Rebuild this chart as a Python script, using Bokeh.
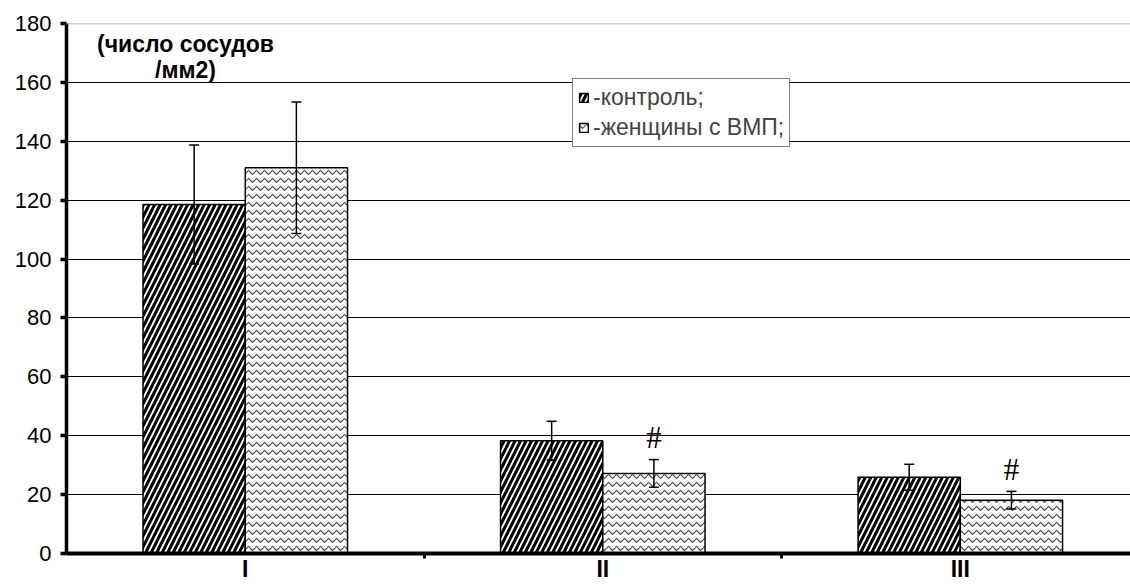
from bokeh.plotting import figure
from bokeh.models import (ColumnDataSource, FixedTicker, Whisker, TeeHead, Legend,
                          LegendItem, Span, Range1d, Label)
from bokeh.core.properties import value
from bokeh.embed import file_html
from bokeh.resources import INLINE

# ---- data ----
groups = ["I", "II", "III"]
control = [118.5, 38.3, 25.9]
control_err = [20.2, 6.6, 4.4]
women = [131.0, 27.2, 18.1]
women_err = [22.3, 4.7, 3.0]
sig_marks = ["", "#", "#"]
y_ticks = [0, 20, 40, 60, 80, 100, 120, 140, 160, 180]
series_names = ["-контроль;", "-женщины с ВМП;"]
y_title = "(число сосудов\n/мм2)"

FONT = "Liberation Sans"
centers = [i + 0.5 for i in range(len(groups))]
bar_w = 0.286
ctrl_x = [c - bar_w / 2 for c in centers]
wom_x = [c + bar_w / 2 for c in centers]

src_c = ColumnDataSource(dict(x=ctrl_x, top=control,
                              upper=[v + e for v, e in zip(control, control_err)],
                              lower=[v - e for v, e in zip(control, control_err)]))
src_w = ColumnDataSource(dict(x=wom_x, top=women,
                              upper=[v + e for v, e in zip(women, women_err)],
                              lower=[v - e for v, e in zip(women, women_err)],
                              sig=sig_marks,
                              sig_y=[v + e + 7.5 for v, e in zip(women, women_err)]))

p = figure(width=1130, height=584, x_range=Range1d(0, 2.976), y_range=Range1d(0, 180),
           output_backend="svg", toolbar_location=None,
           min_border_left=66, min_border_right=0, min_border_top=23, min_border_bottom=31)
p.outline_line_color = None
p.background_fill_color = "white"

# grid
p.xgrid.visible = False
p.ygrid.ticker = FixedTicker(ticks=y_ticks[1:-1])
p.ygrid.grid_line_color = "black"
p.ygrid.grid_line_width = 1
p.add_layout(Span(location=y_ticks[-1], dimension="width", line_color="#9a9a9a", line_width=1.5))

# bars
r1 = p.vbar(x="x", top="top", width=bar_w, source=src_c, fill_color="white",
            line_color="black", line_width=1.5,
            hatch_pattern="right_diagonal_line", hatch_color="black",
            hatch_weight=3, hatch_scale=11)
r2 = p.vbar(x="x", top="top", width=bar_w, source=src_w, fill_color="white",
            line_color="black", line_width=1.5,
            hatch_pattern="horizontal_wave", hatch_color="#4a4a4a",
            hatch_weight=1.2, hatch_scale=8)

for s in (src_c, src_w):
    w = Whisker(base="x", upper="upper", lower="lower", source=s, line_width=1.5,
                line_color="black", level="overlay",
                upper_head=TeeHead(size=10, line_width=1.5, line_color="black"),
                lower_head=TeeHead(size=10, line_width=1.5, line_color="black"))
    p.add_layout(w)

p.text(x="x", y="sig_y", text="sig", source=src_w, text_font=value("Liberation Serif"),
       text_font_size="31px", text_align="center", text_baseline="middle",
       text_color="black")

# y title
p.add_layout(Label(x=119, y=497, x_units="screen", y_units="screen", text=y_title,
                   text_font=FONT, text_font_size="23px", text_font_style="bold",
                   text_line_height=1.0,
                   text_align="center", text_baseline="middle", text_color="black"))

# axes
ya = p.yaxis[0]
ya.ticker = FixedTicker(ticks=y_ticks)
ya.axis_line_width = 3.5
ya.axis_line_color = "black"
ya.major_tick_line_width = 3.5
ya.major_tick_out = 6
ya.major_tick_in = 0
ya.minor_tick_line_color = None
ya.major_label_text_font = FONT
ya.major_label_text_font_size = "22px"
ya.major_label_text_color = "black"
ya.major_label_standoff = 9

xa = p.xaxis[0]
xa.ticker = FixedTicker(ticks=centers, minor_ticks=[1, 2])
xa.major_label_overrides = {c: g for c, g in zip(centers, groups)}
xa.axis_line_width = 4
xa.axis_line_color = "black"
xa.major_tick_line_color = None
xa.major_tick_out = 0
xa.major_tick_in = 0
xa.minor_tick_out = 5
xa.minor_tick_in = 0
xa.minor_tick_line_width = 3
xa.minor_tick_line_color = "black"
xa.major_label_text_font = FONT
xa.major_label_text_font_size = "23px"
xa.major_label_text_font_style = "bold"
xa.major_label_text_color = "black"
xa.major_label_standoff = -3

legend = Legend(items=[LegendItem(label=series_names[0], renderers=[r1]),
                       LegendItem(label=series_names[1], renderers=[r2])],
                location=(506, 406))
legend.border_line_color = "black"
legend.border_line_width = 1
legend.background_fill_color = "white"
legend.background_fill_alpha = 1
legend.glyph_width = 11
legend.glyph_height = 11
legend.label_text_font = FONT
legend.label_text_font_size = "23px"
legend.label_standoff = 4
legend.label_height = 24
legend.padding = 5
legend.spacing = 3
legend.margin = 0
p.add_layout(legend)

open("out.html", "w").write(file_html(p, INLINE))
